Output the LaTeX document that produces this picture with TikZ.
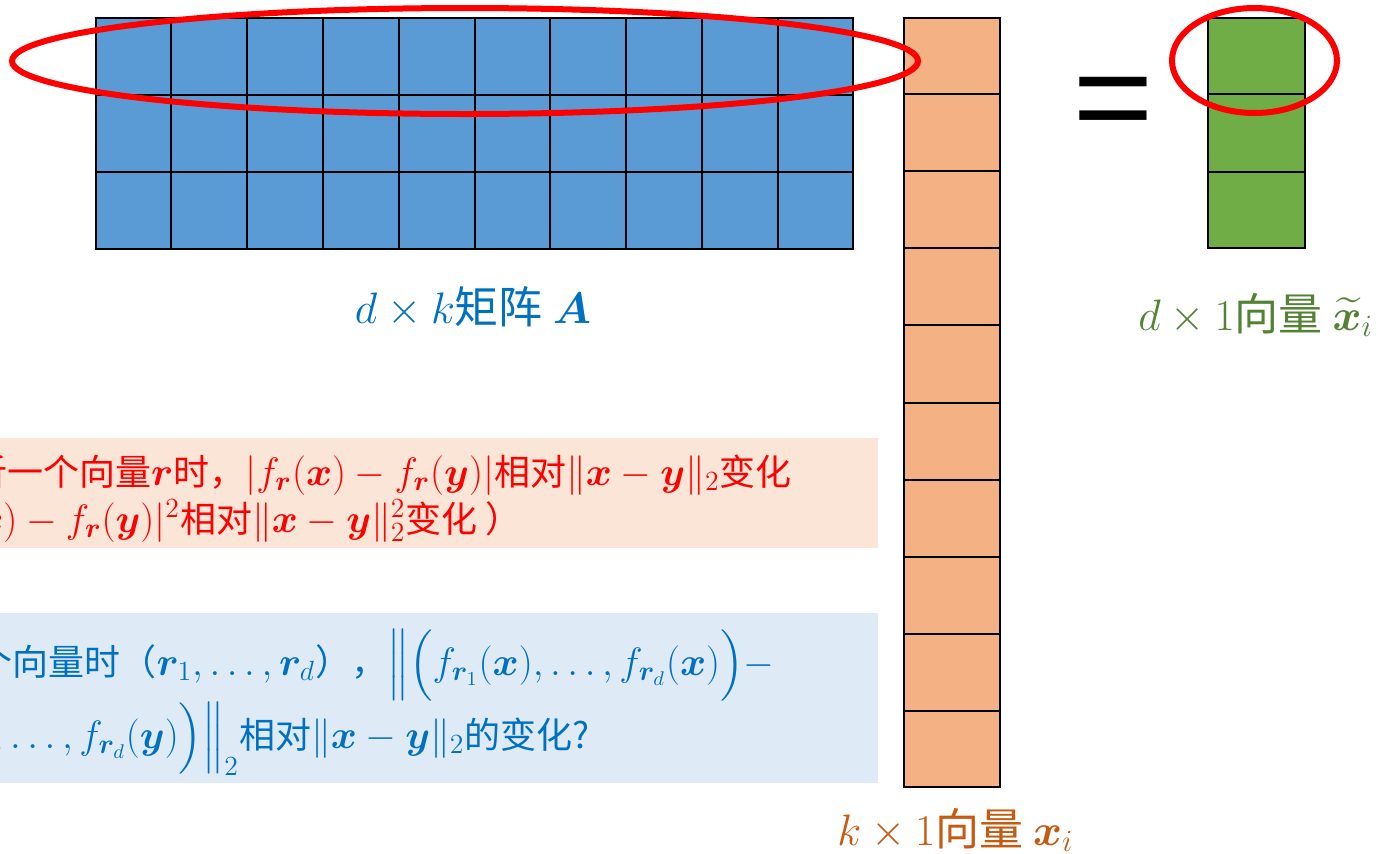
\RequirePackage{fix-cm}
\documentclass[tikz,border=0pt]{standalone}
\usepackage{amsmath,amssymb,bm}
\usepackage{fontspec}
\setmainfont{Noto Sans CJK SC}
\usepackage{xcolor}
\usepackage{tikz}
\usetikzlibrary{positioning,calc}
\definecolor{matblue}{HTML}{5B9BD5}
\definecolor{vecorange}{HTML}{F4B183}
\definecolor{vecgreen}{HTML}{70AD47}
\definecolor{txtblue}{HTML}{0070C0}
\definecolor{txtorange}{HTML}{C55A11}
\definecolor{txtgreen}{HTML}{548235}
\definecolor{peachbg}{HTML}{FBE5D6}
\definecolor{bluebg}{HTML}{DEEBF7}
\newcommand{\mth}[1]{{\fontsize{19.8}{24}\selectfont$#1$}}
\newcommand{\by}{\mkern4mu{\times}\mkern4mu}

\begin{document}
\begin{tikzpicture}[
  x=0.5pt, y=-0.5pt,
  cell/.style={draw=black, line width=1pt, inner sep=0pt, anchor=north west},
  ring/.style={draw=red, line width=3pt},
  lbl/.style={font=\fontsize{22}{26}\selectfont, inner sep=0pt, anchor=base west},
  note/.style={font=\fontsize{18}{22}\selectfont, inner sep=0pt, anchor=base east},
  band/.style={draw=none, inner sep=0pt, anchor=north west, minimum width=439pt}
]
\useasboundingbox (0,0) rectangle (1377,853);
\clip (0,0) rectangle (1377,853);

\node[cell, fill=matblue, minimum width=378.5pt, minimum height=115.5pt] (A) at (95,17) {};
\node[cell, fill=vecorange, minimum width=48pt, minimum height=384.5pt] (xi) at (903,17) {};
\node[cell, fill=vecgreen, minimum width=48.5pt, minimum height=115pt] (xt) at (1207,17) {};

\foreach \i in {1,...,9}
  \draw[cell] ($(A.north west)!\i/10!(A.north east)$) -- ($(A.south west)!\i/10!(A.south east)$);
\foreach \j in {1,2}
  \draw[cell] ($(A.north west)!\j/3!(A.south west)$) -- ($(A.north east)!\j/3!(A.south east)$);
\foreach \j in {1,...,9}
  \draw[cell] ($(xi.north west)!\j/10!(xi.south west)$) -- ($(xi.north east)!\j/10!(xi.south east)$);
\foreach \j in {1,2}
  \draw[cell] ($(xt.north west)!\j/3!(xt.south west)$) -- ($(xt.north east)!\j/3!(xt.south east)$);

\node[font=\fontsize{70}{70}\selectfont, inner sep=0pt] (eq) at (1113,114) {=};

\node[lbl, anchor=base, text=txtblue] (labA) at (473,323) {$d\by k$矩阵 $\bm A$};
\node[lbl, text=txtgreen] (labxt) at (1138,330) {$d\by 1$向量 $\widetilde{\bm x}_i$};
\node[lbl, text=txtorange] (labxi) at (837,845) {$k\by 1$向量 $\bm x_i$};

\node[band, fill=peachbg, minimum height=55pt] (redband) at (0,438) {};
\node[band, fill=bluebg, minimum height=85pt] (blueband) at (0,613) {};

\node[note, text=red] (red1) at (792,485) {分析一个向量\mth{\bm r}时，\mth{|f_{\bm r}(\bm x)-f_{\bm r}(\bm y)|}相对\mth{\|\bm x-\bm y\|_2}变化};
\node[note, text=red] (red2) at (522,532) {（或\mth{|f_{\bm r}(\bm x)-f_{\bm r}(\bm y)|^2}相对\mth{\|\bm x-\bm y\|_2^2}变化 ）};
\node[note, text=txtblue] (blue1) at (775,675) {当取\mth{d}个向量时（\mth{\bm r_1,\ldots,\bm r_d}），\mth{\Bigl\|\Bigl(f_{\bm r_1}(\bm x),\ldots,f_{\bm r_d}(\bm x)\Bigr)-}};
\node[note, text=txtblue] (blue2) at (590,748) {\mth{\Bigl(f_{\bm r_1}(\bm y),\ldots,f_{\bm r_d}(\bm y)\Bigr)\Bigr\|_2}相对\mth{\|\bm x-\bm y\|_2}的变化?};

\draw[ring] (465,61) ellipse [x radius=453, y radius=53];
\draw[ring] (1254.5,60.5) ellipse [x radius=82.5, y radius=52.5];
\end{tikzpicture}
\end{document}
